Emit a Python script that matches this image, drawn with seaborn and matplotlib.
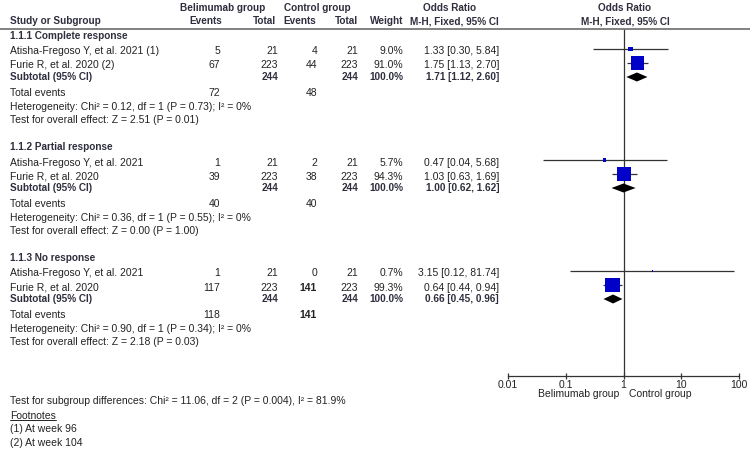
import numpy as np
import pandas as pd
import matplotlib
matplotlib.use("Agg")
import matplotlib.pyplot as plt
from matplotlib.lines import Line2D
import seaborn as sns

# ---------------- data ----------------
subgroups = ["1.1.1 Complete response", "1.1.2 Partial response", "1.1.3 No response"]
study_names = [
    ["Atisha-Fregoso Y, et al. 2021 (1)", "Furie R, et al. 2020 (2)"],
    ["Atisha-Fregoso Y, et al. 2021", "Furie R, et al. 2020"],
    ["Atisha-Fregoso Y, et al. 2021", "Furie R, et al. 2020"],
]
bel_events = [[5, 67], [1, 39], [1, 117]]
bel_total = [[21, 223], [21, 223], [21, 223]]
ctl_events = [[4, 44], [2, 38], [0, 141]]
ctl_total = [[21, 223], [21, 223], [21, 223]]
weights = [[9.0, 91.0], [5.7, 94.3], [0.7, 99.3]]
or_est = [[1.33, 1.75], [0.47, 1.03], [3.15, 0.64]]
or_lo = [[0.30, 1.13], [0.04, 0.63], [0.12, 0.44]]
or_hi = [[5.84, 2.70], [5.68, 1.69], [81.74, 0.94]]
sub_total_bel = [244, 244, 244]
sub_total_ctl = [244, 244, 244]
sub_or = [1.71, 1.00, 0.66]
sub_lo = [1.12, 0.62, 0.45]
sub_hi = [2.60, 1.62, 0.96]
tot_events_bel = [72, 40, 118]
tot_events_ctl = [48, 40, 141]
het_chi2 = ["0.12", "0.36", "0.90"]
het_df = [1, 1, 1]
het_p = ["0.73", "0.55", "0.34"]
het_i2 = ["0", "0", "0"]
z_vals = ["2.51", "0.00", "2.18"]
z_p = ["0.01", "1.00", "0.03"]
x_ticks = [0.01, 0.1, 1, 10, 100]
x_tick_labels = ["0.01", "0.1", "1", "10", "100"]
footnotes = ["(1) At week 96", "(2) At week 104"]
subgroup_test = "Test for subgroup differences: Chi\u00b2 = 11.06, df = 2 (P = 0.004), I\u00b2 = 81.9%"

# ---------------- style ----------------
sns.set_style("white")
plt.rcParams["font.family"] = ["Liberation Sans", "DejaVu Sans"]
FS = 7.5
FSH = 7.2
TXT = "#222222"
HDR = "#2e2e3e"
BLUE = "#0000C8"

W, H = 750, 461
fig = plt.figure(figsize=(W / 100, H / 100), dpi=100)


def P(x, y):
    return x / W, 1 - y / H


def T(x, y, s, ha="left", bold=False, color=TXT, fs=None, **kw):
    return fig.text(*P(x, y), s, ha=ha, va="center", fontsize=fs or FS,
                    fontweight="bold" if bold else "normal", color=color, **kw)


# forest axis geometry (pixels)
AX_L, AX_R, AX_T, AX_B = 508, 739, 29, 376
ax = fig.add_axes([AX_L / W, 1 - AX_B / H, (AX_R - AX_L) / W, (AX_B - AX_T) / H])
ax.set_xscale("log")
ax.set_xlim(0.01, 100)
ax.set_ylim(AX_B, AX_T)  # y in pixel rows
for s in ["top", "left", "right"]:
    ax.spines[s].set_visible(False)
ax.spines["bottom"].set_color("#333333")
ax.spines["bottom"].set_linewidth(0.9)
ax.set_yticks([])
ax.set_xticks(x_ticks)
ax.set_xticklabels(x_tick_labels)
ax.xaxis.set_minor_locator(matplotlib.ticker.NullLocator())
ax.tick_params(axis="x", direction="inout", length=5, width=0.9, color="#333333",
               labelsize=FS, labelcolor=TXT, pad=0.5, bottom=True)
ax.set_facecolor("none")
ax.axvline(1, color="#333333", lw=0.9, zorder=1)

# header
T(223, 8, "Belimumab group", ha="center", bold=True, color=HDR, fs=FSH)
T(284, 8, "Control group", ha="left", bold=True, color=HDR, fs=FSH)
T(450, 8, "Odds Ratio", ha="center", bold=True, color=HDR, fs=FSH)
T(625, 8, "Odds Ratio", ha="center", bold=True, color=HDR, fs=FSH)
T(10, 21.5, "Study or Subgroup", bold=True, color=HDR, fs=FSH)
T(222, 21.5, "Events", ha="right", bold=True, color=HDR, fs=FSH)
T(276, 21.5, "Total", ha="right", bold=True, color=HDR, fs=FSH)
T(316, 21.5, "Events", ha="right", bold=True, color=HDR, fs=FSH)
T(358, 21.5, "Total", ha="right", bold=True, color=HDR, fs=FSH)
T(403, 21.5, "Weight", ha="right", bold=True, color=HDR, fs=FSH)
T(499, 21.5, "M-H, Fixed, 95% CI", ha="right", bold=True, color=HDR, fs=FSH)
T(625, 21.5, "M-H, Fixed, 95% CI", ha="center", bold=True, color=HDR, fs=FSH)
fig.add_artist(Line2D([0, 1], [1 - 29 / H, 1 - 29 / H], color="#777777", lw=1.3))

# body
SEC0, SEC_STEP = 36, 111
rows = []
for g in range(3):
    base = SEC0 + g * SEC_STEP
    T(10, base, subgroups[g], bold=True, color=HDR, fs=FSH)
    for i in range(2):
        y = base + 15.5 + i * 14
        T(10, y, study_names[g][i])
        T(220, y, str(bel_events[g][i]), ha="right")
        T(278, y, str(bel_total[g][i]), ha="right")
        big = ctl_events[g][i] == 141
        T(317, y, str(ctl_events[g][i]), ha="right", bold=big)
        T(358, y, str(ctl_total[g][i]), ha="right")
        T(403, y, f"{weights[g][i]:.1f}%", ha="right")
        T(499, y, f"{or_est[g][i]:.2f} [{or_lo[g][i]:.2f}, {or_hi[g][i]:.2f}]", ha="right")
        rows.append(dict(y=y - 2.5, est=or_est[g][i], lo=or_lo[g][i], hi=or_hi[g][i],
                         w=weights[g][i]))
    ys = base + 41
    T(10, ys, "Subtotal (95% CI)", bold=True, color=HDR, fs=FSH)
    T(278, ys, str(sub_total_bel[g]), ha="right", bold=True, color=HDR, fs=FSH)
    T(358, ys, str(sub_total_ctl[g]), ha="right", bold=True, color=HDR, fs=FSH)
    T(403, ys, "100.0%", ha="right", bold=True, color=HDR, fs=FSH)
    T(499, ys, f"{sub_or[g]:.2f} [{sub_lo[g]:.2f}, {sub_hi[g]:.2f}]", ha="right", bold=True,
      color=HDR, fs=FSH)
    # diamond
    yd = ys
    hd = 4.5
    ax.fill([sub_lo[g], sub_or[g], sub_hi[g], sub_or[g]], [yd, yd - hd, yd, yd + hd],
            color="black", lw=0, zorder=4)
    yt = base + 57
    T(10, yt, "Total events")
    T(220, yt, str(tot_events_bel[g]), ha="right")
    T(317, yt, str(tot_events_ctl[g]), ha="right", bold=(tot_events_ctl[g] == 141))
    T(10, yt + 13.5, f"Heterogeneity: Chi\u00b2 = {het_chi2[g]}, df = {het_df[g]} (P = {het_p[g]}); I\u00b2 = {het_i2[g]}%")
    T(10, yt + 27, f"Test for overall effect: Z = {z_vals[g]} (P = {z_p[g]})")

df = pd.DataFrame(rows)
ax.hlines(df["y"], df["lo"], df["hi"], color="#333333", lw=0.9, zorder=2)
sns.scatterplot(data=df, x="est", y="y", size="w", sizes=(0, 110), size_norm=(0, 100),
                marker="s", color=BLUE, edgecolor="none", linewidth=0, legend=False,
                ax=ax, zorder=3)
ax.set_xlabel("")
ax.set_ylabel("")
ax.set_xlim(0.01, 100)
ax.set_ylim(AX_B, AX_T)

T(619, 394, "Belimumab group", ha="right")
T(629, 394, "Control group", ha="left")

# footer
T(10, 401.5, subgroup_test)
fn = T(10, 415.5, "Footnotes")
T(10, 429, footnotes[0])
T(10, 442.5, footnotes[1])
fig.canvas.draw()
bb = fn.get_window_extent(fig.canvas.get_renderer())
uy = bb.y0 + 0.5
fig.add_artist(Line2D([bb.x0 / W, bb.x1 / W], [uy / H, uy / H], color=TXT, lw=0.7))

fig.savefig("out.png", dpi=100)
